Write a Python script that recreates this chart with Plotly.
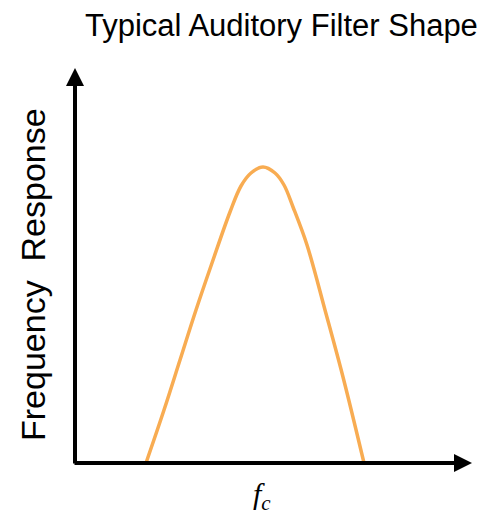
import plotly.graph_objects as go

# filter curve (arbitrary units: frequency vs response)
freq = [71, 89, 105, 121, 137, 155, 166, 176, 188, 200, 209, 218, 232, 250, 268, 289]
resp = [0, 53, 103, 153, 200, 251, 277, 290, 296, 290, 278, 256, 218, 153, 86, 0]

fc = 187          # centre frequency, where the label sits
x_end = 397       # arrow tips of the drawn axes
y_end = 395

fig = go.Figure(go.Scatter(
    x=freq, y=resp, mode='lines',
    line=dict(color='#F8AC52', width=3.5, shape='spline', smoothing=1),
    hoverinfo='skip'
))

axis_arrow = dict(xref='x', yref='y', axref='x', ayref='y', text='',
                  showarrow=True, arrowhead=2, arrowsize=0.9,
                  arrowwidth=4, arrowcolor='black', standoff=0)

fig.update_layout(
    width=489, height=516,
    margin=dict(l=75, r=9, t=63, b=53),
    paper_bgcolor='white', plot_bgcolor='white',
    showlegend=False,
    font=dict(family='Liberation Sans, Arial, sans-serif', color='black'),
    xaxis=dict(range=[0, 405], visible=False, fixedrange=True),
    yaxis=dict(range=[0, 400], visible=False, fixedrange=True),
    annotations=[
        dict(axis_arrow, x=x_end, y=0, ax=-2, ay=0),
        dict(axis_arrow, x=0, y=y_end, ax=0, ay=-2),
        dict(text='Typical Auditory Filter Shape', xref='paper', yref='paper',
             x=(281 - 75) / 405, y=(516 - 26 - 53) / 400, xanchor='center', yanchor='middle',
             showarrow=False, font=dict(size=31)),
        dict(text='Frequency\u00a0 Response', xref='paper', yref='paper',
             x=(33 - 75) / 405, y=(516 - 275 - 53) / 400, xanchor='center', yanchor='middle',
             textangle=-90, showarrow=False, font=dict(size=34)),
        dict(text='<i>f</i><sub><i>c</i></sub>', xref='x', yref='paper',
             x=fc, y=-0.03, xanchor='center', yanchor='top',
             showarrow=False, font=dict(family='Liberation Serif, serif', size=30)),
    ],
)

fig.write_html("out.html", config={'displayModeBar': False},
               post_script="document.body.style.margin='0';")
